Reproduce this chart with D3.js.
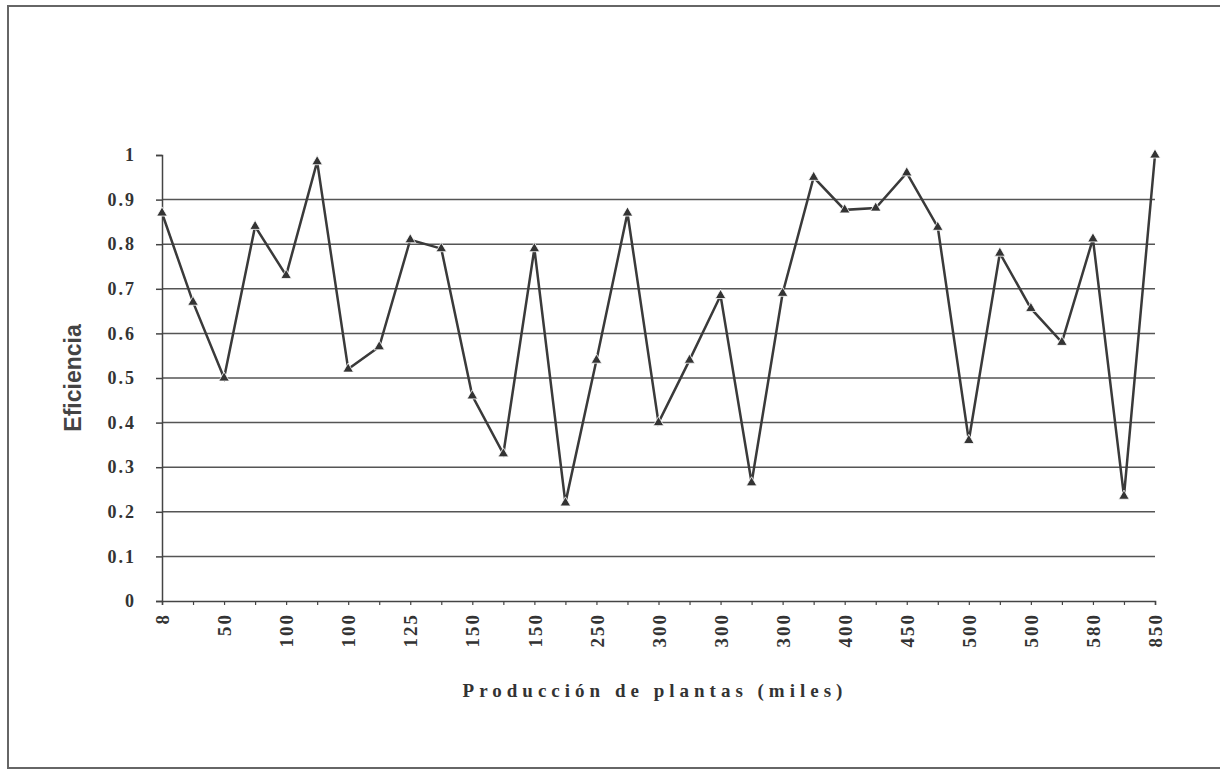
<!DOCTYPE html>
<html><head><meta charset="utf-8">
<script src="https://cdn.jsdelivr.net/npm/d3@7"></script>
<style>
html,body{margin:0;padding:0;background:#fff;}
svg{display:block;}
</style></head>
<body>
<svg id="chart" width="1220" height="771"></svg>
<script>
// Category labels (only every other one is printed on the axis)
const categories = ["8","20","50","80","100","100","100","120","125","130","150","150","150","200","250","300","300","300","300","300","300","350","400","420","450","480","500","500","500","550","580","600","850"];
const efficiency = [0.87,0.67,0.50,0.84,0.73,0.985,0.52,0.57,0.81,0.79,0.46,0.33,0.79,0.22,0.54,0.87,0.40,0.54,0.685,0.265,0.69,0.95,0.877,0.881,0.96,0.838,0.36,0.78,0.656,0.58,0.812,0.235,1.0];
const yTicks = [0,0.1,0.2,0.3,0.4,0.5,0.6,0.7,0.8,0.9,1];
const yTitle = "Eficiencia";
const xTitle = "Producción de plantas (miles)";

const svg = d3.select("#chart");
const W = 1220, H = 771;
const m = {left:162, right:65, top:155, bottom:170};
const iw = W - m.left - m.right, ih = H - m.top - m.bottom;

// frame
svg.append("rect").attr("x",8).attr("y",6).attr("width",1230).attr("height",762)
  .attr("fill","none").attr("stroke","#666").attr("stroke-width",2);

const g = svg.append("g").attr("transform",`translate(${m.left},${m.top})`);
const idx = d3.range(categories.length);
const x = d3.scalePoint().domain(idx).range([0, iw]);
const y = d3.scaleLinear().domain([0,1]).range([ih,0]);

const serif = "'Liberation Serif','Times New Roman',serif";
// gridlines
g.append("g").selectAll("line").data(yTicks.filter(d=>d>0 && d<1)).join("line")
  .attr("x1",0).attr("x2",iw).attr("y1",d=>y(d)).attr("y2",d=>y(d))
  .attr("stroke","#555").attr("stroke-width",1.5);

// y axis
const ya = g.append("g").call(d3.axisLeft(y).tickValues(yTicks).tickSize(6).tickPadding(20)
   .tickFormat(d=> d===0||d===1 ? String(d) : d3.format(".1f")(d)));
ya.select(".domain").attr("stroke","#444").attr("stroke-width",1.5);
ya.selectAll(".tick line").attr("stroke","#444").attr("stroke-width",1.5);
ya.selectAll("text").attr("font-family",serif).attr("font-weight","bold").attr("font-size",18)
  .attr("fill","#333").attr("letter-spacing","2px");

// x axis
const xa = g.append("g").attr("transform",`translate(0,${ih})`)
  .call(d3.axisBottom(x).tickSize(4).tickPadding(8).tickFormat(i => i%2===0 ? categories[i] : ""));
xa.select(".domain").attr("stroke","#444").attr("stroke-width",1.5);
xa.selectAll(".tick line").attr("stroke","#444").attr("stroke-width",1.2);
xa.selectAll("text").attr("font-family",serif).attr("font-weight","bold").attr("font-size",19)
  .attr("fill","#333").attr("letter-spacing","2px")
  .attr("transform","rotate(-90)").attr("text-anchor","end").attr("dy","0.35em")
  .attr("x",-12).attr("y",0);

// line
g.append("path").datum(efficiency)
  .attr("fill","none").attr("stroke","#3a3a3a").attr("stroke-width",2.5).attr("stroke-linejoin","miter")
  .attr("d", d3.line().x((d,i)=>x(i)).y(d=>y(d)));

// markers
g.append("g").selectAll("path").data(efficiency).join("path")
  .attr("transform",(d,i)=>`translate(${x(i)},${y(d)})`)
  .attr("d", d3.symbol(d3.symbolTriangle, 48)())
  .attr("fill","#333").attr("stroke","#fff").attr("stroke-width",0.8);

// titles
svg.append("text").attr("x", 655).attr("y", 697).attr("text-anchor","middle")
  .attr("font-family",serif).attr("font-weight","bold").attr("font-size",19)
  .attr("letter-spacing","5px").attr("fill","#333").text(xTitle);
svg.append("text").attr("transform","translate(81,378) rotate(-90)").attr("text-anchor","middle")
  .attr("font-family","'Liberation Sans',Arial,sans-serif").attr("font-weight","bold").attr("font-size",23)
  .attr("fill","#444").text(yTitle);
</script>
</body></html>
